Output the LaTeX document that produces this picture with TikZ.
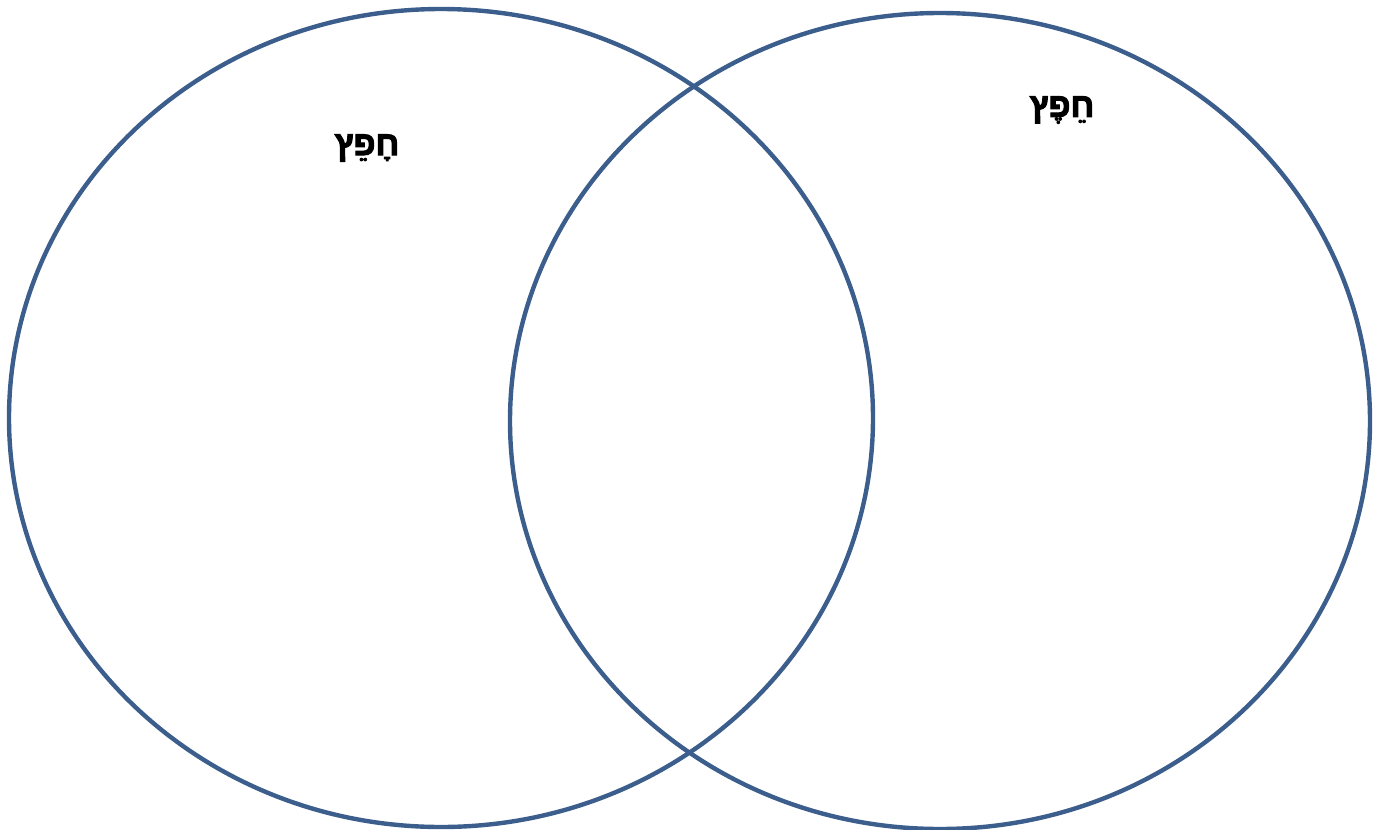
\documentclass[tikz,border=0pt]{standalone}
\usepackage{fontspec}
\newfontfamily\hebfont[Script=Hebrew, FakeBold=3]{Liberation Sans Bold}
\TeXXeTstate=1
\definecolor{vennblue}{HTML}{3B5E8C}

\begin{document}
\begin{tikzpicture}[x=1pt, y=-1pt,
	set/.style={draw=vennblue, line width=4.4pt},
	word/.style={font=\hebfont\fontsize{34}{40}\selectfont, inner sep=0pt}]

	\useasboundingbox (0,0) rectangle (1377,830);

	\draw[set] (441,418) ellipse [x radius=432, y radius=409];
	\draw[set] (940,421) ellipse [x radius=430, y radius=408];

	\node[word] (left) at (367,148) {\beginR חָפֵץ\endR};
	\node[word] (right) at (1062,110) {\beginR חֵפֶץ\endR};

\end{tikzpicture}
\end{document}
